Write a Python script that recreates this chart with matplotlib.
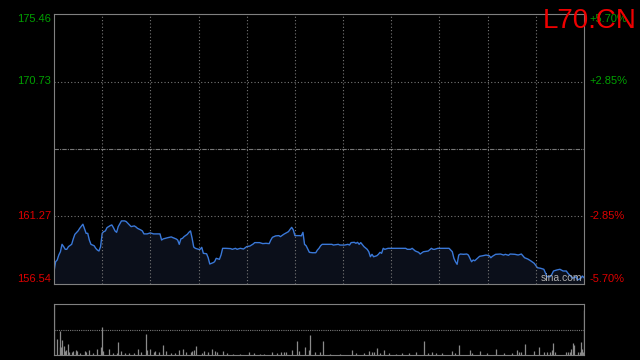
import matplotlib
matplotlib.use("Agg")
import matplotlib.pyplot as plt
import matplotlib.transforms as mtransforms

plt.rcParams["font.family"] = ["Liberation Sans", "DejaVu Sans"]

# intraday data (minutes from open)
prev_close = 166.00
y_ticks = [156.54, 161.27, 170.73, 175.46]

minutes = [0, 2, 4, 6, 8, 10, 12, 14, 16, 18, 22, 24, 26, 30, 32, 36, 38, 40, 42, 44,
           46, 50, 52, 54, 56, 58, 60, 62, 64, 66, 70, 72, 74, 76, 78, 80, 84, 88, 90, 94,
           96, 100, 102, 104, 108, 110, 112, 116, 120, 124, 132, 134, 136, 142, 146, 148, 152, 154, 156, 158,
           160, 162, 166, 168, 170, 172, 174, 176, 180, 182, 184, 186, 190, 192, 194, 198, 200, 202, 206, 208,
           210, 214, 220, 222, 226, 228, 232, 236, 240, 244, 248, 250, 256, 260, 264, 268, 270, 272, 276, 280,
           282, 286, 292, 294, 296, 298, 300, 306, 308, 310, 312, 314, 318, 322, 326, 328, 330, 332, 334, 338,
           346, 348, 354, 356, 362, 366, 368, 370, 374, 376, 378, 380, 382, 386, 390, 392, 394, 396, 398, 402,
           404, 406, 408, 410, 412, 416, 424, 438, 440, 444, 446, 450, 454, 456, 460, 466, 470, 472, 474, 478,
           492, 496, 498, 500, 502, 504, 506, 510, 514, 516, 518, 520, 522, 524, 526, 530, 534, 538, 542, 544,
           546, 550, 556, 560, 562, 566, 568, 574, 578, 582, 586, 590, 594, 598, 602, 606, 610, 614, 618, 620,
           622, 626, 630, 634, 638, 640, 644, 646, 650, 652, 656, 658, 660]
prices = [157.40, 158.10, 158.22, 158.57, 158.80, 159.32, 159.16, 158.97, 158.97, 159.16, 159.32, 159.70, 160.02, 160.26, 160.44, 160.73, 160.40, 160.09, 160.09, 159.62,
          159.32, 159.22, 159.04, 158.92, 158.85, 159.16, 160.09, 160.21, 160.26, 160.49, 160.63, 160.68, 160.49, 160.26, 160.16, 160.56, 160.96, 160.96, 160.91, 160.68,
          160.56, 160.61, 160.54, 160.44, 160.33, 160.26, 160.05, 160.05, 160.12, 160.05, 160.05, 159.62, 159.70, 159.79, 159.84, 159.79, 159.70, 159.62, 159.32, 159.70,
          159.74, 159.86, 160.02, 160.16, 160.26, 159.74, 159.13, 159.04, 158.97, 158.97, 159.11, 158.69, 158.66, 158.38, 157.94, 158.03, 158.10, 158.34, 158.27, 158.57,
          159.04, 159.04, 159.02, 158.97, 159.04, 158.97, 159.04, 158.99, 159.16, 159.20, 159.34, 159.44, 159.44, 159.37, 159.39, 159.37, 159.62, 159.81, 159.91, 159.93,
          159.86, 160.02, 160.21, 160.37, 160.51, 160.33, 159.93, 159.93, 159.91, 160.16, 159.32, 159.22, 158.76, 158.73, 158.73, 158.92, 159.04, 159.22, 159.32, 159.32,
          159.32, 159.27, 159.32, 159.27, 159.27, 159.32, 159.27, 159.44, 159.46, 159.39, 159.46, 159.32, 159.44, 159.16, 158.97, 158.80, 158.45, 158.62, 158.45, 158.52,
          158.62, 158.76, 158.69, 159.04, 158.97, 159.04, 159.04, 159.04, 158.97, 158.97, 159.04, 158.85, 158.76, 158.64, 158.80, 158.85, 159.04, 158.97, 158.97, 159.04,
          159.04, 158.80, 158.34, 158.10, 157.92, 158.57, 158.64, 158.62, 158.64, 158.57, 158.34, 158.10, 158.22, 158.17, 158.27, 158.48, 158.52, 158.57, 158.52, 158.38,
          158.48, 158.62, 158.64, 158.57, 158.62, 158.55, 158.64, 158.62, 158.57, 158.64, 158.38, 158.29, 158.15, 157.99, 157.68, 157.64, 157.57, 157.05, 157.05, 157.22,
          157.45, 157.52, 157.57, 157.45, 157.45, 157.29, 157.05, 156.94, 157.05, 156.82, 156.94, 157.10, 156.98]

vol_minutes = [0, 4, 7, 8, 9, 10, 12, 14, 15, 18, 19, 22, 24, 27, 28, 29, 32, 38, 40, 44,
               49, 54, 58, 60, 61, 68, 74, 78, 80, 84, 89, 94, 99, 104, 108, 114, 116, 120, 125, 126,
               131, 136, 140, 146, 151, 156, 161, 164, 171, 172, 174, 177, 184, 187, 192, 197, 200, 203, 210, 216,
               223, 231, 243, 249, 256, 262, 272, 278, 283, 287, 289, 296, 302, 305, 313, 317, 319, 325, 331, 335,
               344, 356, 371, 376, 386, 392, 396, 398, 402, 406, 411, 417, 426, 433, 442, 451, 461, 466, 471, 476,
               483, 496, 499, 504, 518, 521, 531, 539, 550, 560, 570, 577, 579, 582, 587, 598, 604, 610, 614, 618,
               620, 621, 624, 638, 640, 643, 644, 646, 648, 653, 655, 656, 658, 659, 660]
volumes = [6000, 1630, 770, 2430, 770, 1530, 930, 430, 530, 1130, 270, 270, 430, 530, 270, 370, 200, 430, 270, 530,
           200, 600, 800, 2830, 370, 600, 200, 200, 1300, 430, 200, 200, 200, 600, 270, 2130, 530, 600, 270, 370,
           270, 1030, 430, 200, 200, 530, 600, 270, 270, 370, 530, 930, 200, 430, 270, 600, 370, 270, 430, 200,
           130, 130, 300, 200, 130, 130, 330, 200, 330, 270, 270, 530, 1430, 430, 830, 530, 2030, 330, 330, 1430,
           130, 130, 530, 200, 200, 430, 330, 330, 700, 200, 530, 200, 130, 200, 200, 330, 1430, 200, 330, 200,
           200, 430, 200, 1030, 530, 200, 430, 200, 630, 200, 200, 530, 330, 330, 1130, 430, 830, 270, 330, 270,
           530, 1230, 270, 330, 270, 330, 630, 1230, 1030, 330, 330, 1330, 630, 330, 4530]

bg = "black"
grid_c = "#777777"
spine_c = "#808080"
up_c = "#00a000"
down_c = "#dd0000"

fig = plt.figure(figsize=(6.4, 3.6), dpi=100, facecolor=bg)
ax = fig.add_axes([54 / 640, 76 / 360, 530 / 640, 270 / 360], facecolor=bg)
axv = fig.add_axes([54 / 640, 5 / 360, 530 / 640, 51 / 360], facecolor=bg)

# price line
ax.fill_between(minutes, prices, y_ticks[0], color="#0b0f1a", lw=0)
ax.plot(minutes, prices, color="#3a78d8", lw=1.0)
ax.set_xlim(0, 660)
ax.set_ylim(y_ticks[0], y_ticks[-1])

for v in range(60, 660, 60):
    ax.axvline(v, color=grid_c, lw=0.8, ls=(0, (1, 2)))
for v in (y_ticks[1], y_ticks[2]):
    ax.axhline(v, color=grid_c, lw=0.8, ls=(0, (1, 2)))
ax.axhline(prev_close, color=grid_c, lw=0.8, ls=(0, (4, 1, 1, 1)))

for s in ax.spines.values():
    s.set_color(spine_c)
ax.tick_params(length=0)
ax.set_xticks([])
ax.set_yticks([])

# tick labels left (price) and right (percent)
trl = mtransforms.blended_transform_factory(ax.transAxes, ax.transData)
for v in y_ticks:
    c = up_c if v > prev_close else down_c
    va = "top" if v == y_ticks[-1] else ("bottom" if v == y_ticks[0] else "center")
    pct = (v - prev_close) / prev_close * 100
    ax.text(-0.006, v, f"{v:.2f}", transform=trl, ha="right", va=va, color=c, fontsize=8)
    ax.text(1.011, v, f"{pct:+.2f}%", transform=trl, ha="left", va=va, color=c, fontsize=8)

ax.text(0.997, 0.005, "sina.com", transform=ax.transAxes, ha="right", va="bottom",
        color="#b0b0b0", fontsize=7.5)
fig.text(637 / 640, 1 - 28 / 360, "L70.CN", ha="right", va="baseline", color="#ee0000", fontsize=20)

# volume panel
axv.vlines(vol_minutes, 0, volumes, color="#8a8a8a", lw=0.9)
axv.set_xlim(0, 660)
axv.set_ylim(0, 5100)
axv.axhline(2550, color=grid_c, lw=0.8, ls=(0, (1, 1)))
axv.spines["top"].set_linestyle((0, (1, 1)))
for s in axv.spines.values():
    s.set_color(spine_c)
axv.set_xticks([])
axv.set_yticks([])

fig.savefig("out.png", dpi=100, facecolor=bg)
